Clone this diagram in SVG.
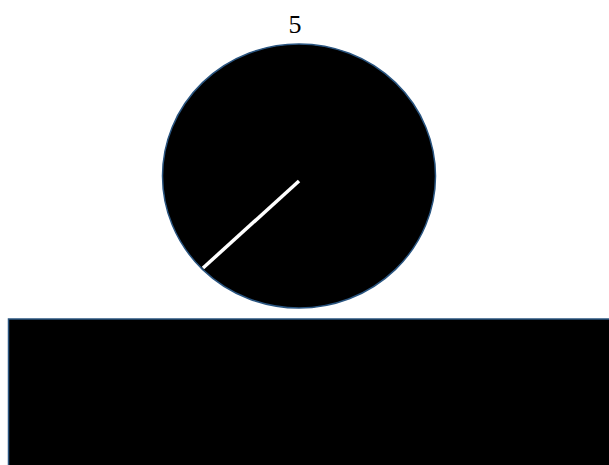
<svg xmlns="http://www.w3.org/2000/svg" width="609" height="465" viewBox="0 0 609 465">
<style>
.shape{fill:#000;stroke:#2a5580;stroke-width:1.5}
.lbl{font-family:"Liberation Serif",serif;font-size:26px;fill:#000}
</style>
<rect width="609" height="465" fill="#fff"/>
<g id="label"><text class="lbl" x="295" y="33" text-anchor="middle">5</text></g>
<g id="wheel">
<ellipse class="shape" cx="299" cy="176" rx="136.5" ry="132"/>
<line x1="299" y1="181" x2="203" y2="268" stroke="#fff" stroke-width="3.5"/>
</g>
<g id="ground"><rect class="shape" x="8.5" y="319" width="605" height="150"/></g>
<g id="connectors"/>
</svg>
